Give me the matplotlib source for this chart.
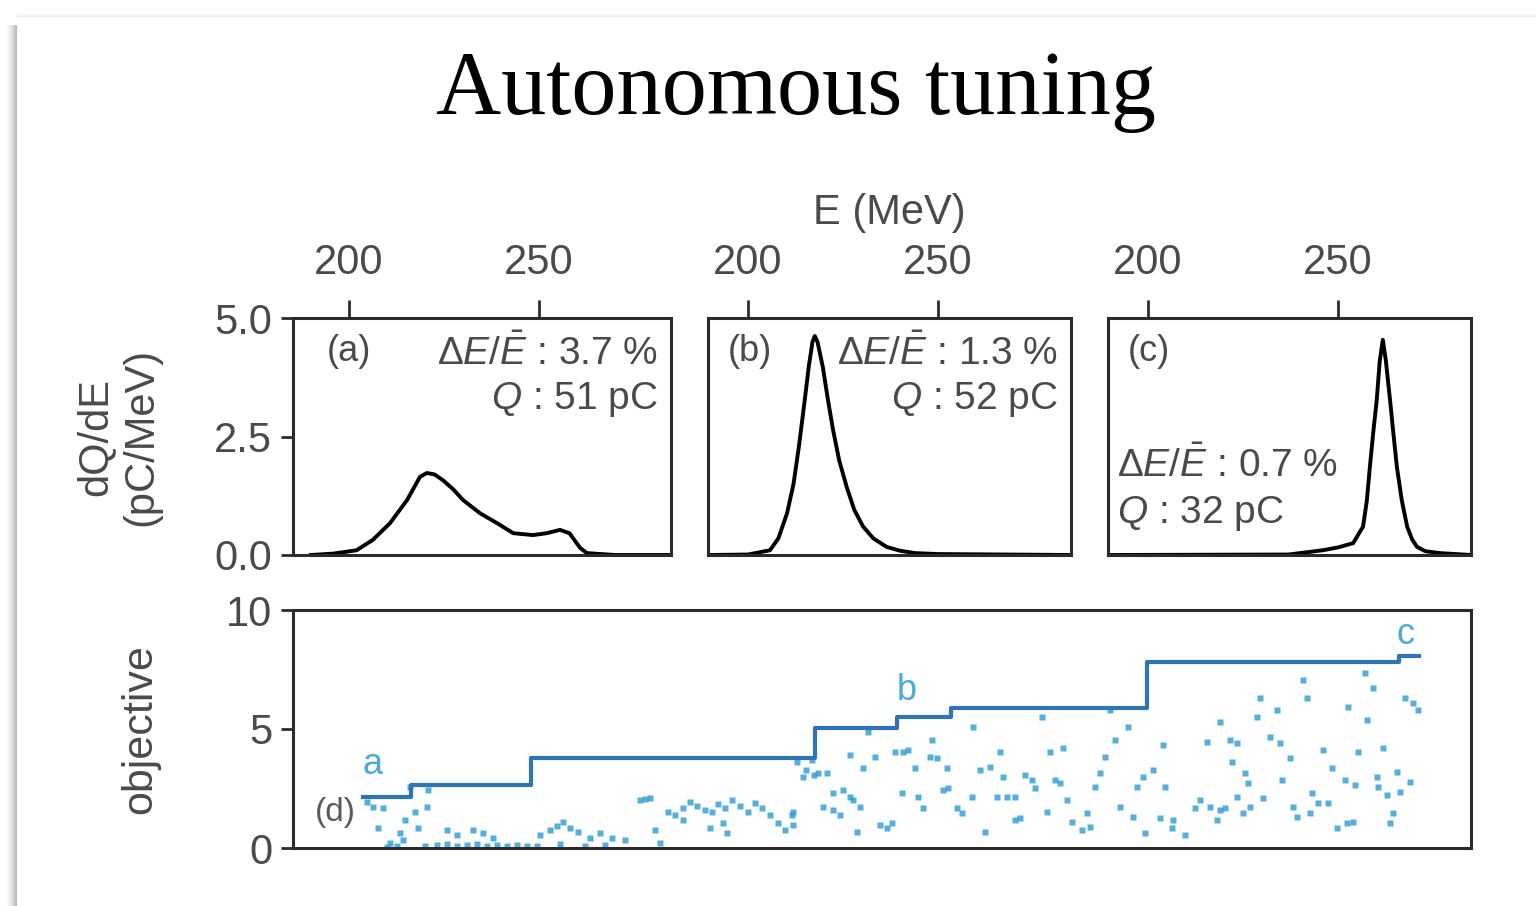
import matplotlib
matplotlib.use("Agg")
import numpy as np
from matplotlib import pyplot as plt
from matplotlib.lines import Line2D

# spectra (E in MeV, dQ/dE in pC/MeV) (a), (b), (c)
E_a = [190, 196, 202, 206.3, 210.8, 215.3, 218.7, 220.5, 222.5, 224.7, 227.5, 230,
       234.5, 239, 243.2, 248.4, 252, 255.5, 258, 260.8, 262.6, 270, 284.7]
Q_a = [0, 0.03, 0.1, 0.32, 0.67, 1.16, 1.65, 1.73, 1.7, 1.58, 1.38, 1.16,
       0.88, 0.67, 0.46, 0.42, 0.46, 0.53, 0.46, 0.15, 0.04, 0, 0]

E_b = [190, 200, 205.8, 208, 210.3, 212, 213.4, 215, 216, 217, 217.6, 218.3, 219.7,
       221, 222.4, 224, 226, 228, 230.3, 233, 236.5, 240, 244, 250, 285]
Q_b = [0, 0.01, 0.1, 0.35, 0.88, 1.5, 2.28, 3.3, 3.97, 4.5, 4.62, 4.5, 3.97,
       3.3, 2.64, 2.0, 1.43, 0.95, 0.6, 0.35, 0.17, 0.09, 0.04, 0.02, 0]

E_c = [190, 237, 246, 250, 254, 256.6, 257.6, 258.4, 259.3, 260.2, 261, 261.8, 262.6,
       263.7, 264.6, 265.5, 266.8, 268.2, 269.5, 270.8, 273, 276.8, 285]
Q_c = [0, 0.01, 0.1, 0.16, 0.25, 0.6, 1.15, 1.86, 2.6, 3.27, 4.1, 4.54, 4.1,
       3.27, 2.55, 1.86, 1.15, 0.6, 0.33, 0.17, 0.08, 0.04, 0]

spread_txt = ["3.7 %", "1.3 %", "0.7 %"]
charge_txt = ["51 pC", "52 pC", "32 pC"]
panel_tags = ["(a)", "(b)", "(c)"]

# best-so-far objective (step) and all evaluations (iteration, objective)
best_iter = [2, 14, 44, 115, 135.5, 149, 198, 261, 266]
best_obj = [2.15, 2.65, 3.8, 5.05, 5.5, 5.9, 7.8, 8.05, 8.05]

eval_iter = [3, 4.5, 7, 5.75, 8.75, 11.25, 12, 12.5, 15, 18, 15.75, 18.25, 13.75,
             8, 10.5, 17.5, 20.5, 23, 25.5, 28, 30.5, 33, 35.5, 38, 40.5, 43,
             29.5, 32, 34.5, 23, 25.5,
             46.25, 48.75, 50.5, 52, 53.75, 55.75, 58.75, 61.25, 64.25, 67.5,
             45.5, 51.25, 57.5, 62.5, 71.25, 72.5, 73.75, 75, 76.25, 78.25, 80,
             82, 83.75, 85.5,
             87.5, 89.25, 90.75, 92.5, 94.25, 96.25, 98.25, 100, 101.75, 103.75,
             105.75, 107.5, 109.25, 82, 88.75, 92, 93, 110.5, 112, 112.75, 114.25,
             109.5, 109.5,
             114.75, 115.75, 118, 123.75, 130, 127, 128.25, 135, 137, 138.25,
             144.25, 143.75, 145.5, 148, 140, 154.5, 161.25, 156.25, 158.75, 162,
             119.5, 122, 123.75, 124.5, 117, 119.5, 121.25, 126.25, 136.75, 140.75,
             142, 147, 148.25, 154.25, 150.5, 151.75, 160.5, 163, 165, 125.5,
             131.25, 133, 134.25, 157.5,
             171.75, 193.25, 190, 187.5, 186.25, 185, 173.75, 177, 167.5, 169.25,
             170, 175, 176.25, 178, 165, 166.25, 173, 179.25, 181.75, 183.75, 183,
             191.25, 194.5, 197.5, 201.25, 204.5, 204.25, 207.5, 195.5, 197, 199.5,
             202.5, 202, 213, 216.25, 218.75, 220.5, 219.25, 211.25, 210, 213.75,
             216.25, 217.5, 215.5, 220.5, 188.75,
             237, 238, 252.5, 254.5, 262.5, 264.5, 265.75, 248.25, 253, 226.25,
             225.5, 230.5, 228.75, 231.25, 233.75, 242, 250.75, 257, 222.5, 223.25,
             231.75, 244.25, 247.5, 250, 255.5, 255.75, 260.5, 263.75, 258, 261.25,
             223.75, 227, 222, 234.5, 235.5, 239.25, 240.75, 243.25, 238.75, 245.5,
             248, 249.5, 259.5, 258.75]
eval_obj = [1.93, 1.72, 1.68, 0.84, 0.21, 0.63, 0.34, 1.18, 1.51, 1.72, 0.84, 2.44, 2.56,
            0.04, 0.08, 0.08, 0.13, 0.17, 0.08, 0.13, 0.17, 0.08, 0.13, 0.08, 0.13, 0.08,
            0.76, 0.63, 0.42, 0.76, 0.55,
            0.55, 0.76, 0.92, 1.09, 0.84, 0.67, 0.42, 0.63, 0.42, 0.34,
            0.08, 0.17, 0.08, 0.13, 2.02, 2.06, 2.1, 0.76, 0.21, 1.51, 1.39,
            1.68, 1.93, 1.76,
            1.6, 1.51, 1.85, 1.68, 2.02, 1.76, 1.51, 1.89, 1.68, 1.39,
            1.05, 0.76, 1.39, 1.18, 0.84, 1.05, 0.63, 3.61, 2.98, 3.28, 3.7,
            1.51, 0.97,
            3.07, 3.15, 3.15, 3.91, 3.82, 3.36, 4.87, 4.03, 4.03, 4.12,
            4.54, 3.82, 3.78, 3.36, 3.36, 5.08, 4.03, 3.28, 3.4, 2.98,
            2.31, 2.44, 2.14, 2.02, 1.72, 1.6, 1.39, 1.72, 2.31, 2.14,
            1.68, 2.44, 2.52, 2.14, 1.68, 1.47, 2.14, 2.14, 1.18, 0.67,
            0.97, 0.84, 1.05, 0.67,
            5.5, 5.08, 4.54, 3.82, 3.15, 2.56, 4.03, 4.2, 3.07, 2.86,
            2.52, 2.86, 2.73, 2.02, 2.14, 1.26, 1.51, 1.09, 0.76, 0.88, 1.47,
            1.72, 1.3, 0.63, 1.26, 1.18, 0.84, 0.55, 2.56, 2.98, 3.28,
            2.56, 4.33, 4.45, 5.29, 4.54, 4.41, 3.61, 2.02, 1.68, 1.72,
            1.6, 1.68, 1.18, 2.14, 5.8,
            7.06, 6.3, 7.35, 6.72, 6.3, 6.09, 5.8, 5.92, 5.38, 6.3,
            5.5, 5.8, 4.66, 4.41, 3.78, 4.12, 4.03, 4.2, 3.15, 2.73,
            2.86, 3.36, 2.86, 2.65, 2.98, 2.56, 3.19, 2.77, 2.23, 2.35,
            1.72, 2.1, 1.47, 1.72, 1.3, 2.31, 1.89, 1.89, 1.47, 0.84,
            1.05, 1.09, 1.47, 1.05]

run_labels = ["a", "b", "c"]
run_label_pos = [(4.5, 3.5), (138, 6.6), (262.5, 8.95)]

plt.rcParams['font.family'] = ['Liberation Sans', 'DejaVu Sans']
plt.rcParams['mathtext.fontset'] = 'custom'
plt.rcParams['mathtext.rm'] = 'Liberation Sans'
plt.rcParams['mathtext.it'] = 'Liberation Sans:italic'

W, H = 1536, 906
fig = plt.figure(figsize=(W / 100, H / 100), dpi=100)
fig.patch.set_facecolor('white')

def px(x0, y0, x1, y1):
    # pixel box (top-left origin) -> figure fraction rect
    return [x0 / W, 1 - y1 / H, (x1 - x0) / W, (y1 - y0) / H]

# slide shadow on the left and top edge
for k in range(1, 14):
    a = 0.30 * (1 - k / 14) ** 2
    fig.add_artist(Line2D([(17 - k) / W] * 2, [0, 1 - (17 + 8) / H],
                          transform=fig.transFigure, color='k', lw=0.8, alpha=a))
for k in range(1, 6):
    a = 0.10 * (1 - k / 6) ** 2
    fig.add_artist(Line2D([17 / W, 1], [1 - (17 - k) / H] * 2,
                          transform=fig.transFigure, color='k', lw=0.8, alpha=a))

fig.text(796 / W, 1 - 92 / H, "Autonomous tuning", ha='center', va='center',
         fontsize=65, family='Liberation Serif', color='black')

txt_col = '#4a4a4a'
spine_col = '#2b2b2b'
fs = 30

boxes = [(293, 318, 671, 555), (708, 318, 1071, 555), (1108, 318, 1471, 555)]
xlims = [(185.3, 284.7), (189.5, 285), (189.5, 285)]
spectra = [(E_a, Q_a), (E_b, Q_b), (E_c, Q_c)]
tag_x = [0.09, 0.055, 0.055]

for i, (box, xl, (E, Q)) in enumerate(zip(boxes, xlims, spectra)):
    ax = fig.add_axes(px(*box))
    ax.plot(E, Q, color='black', lw=2.8, solid_joinstyle='round')
    ax.set_xlim(*xl)
    ax.set_ylim(0, 5)
    ax.xaxis.tick_top()
    ax.set_xticks([200, 250])
    ax.tick_params(axis='x', direction='out', length=13, width=2, pad=12,
                   labelsize=fs, labelcolor=txt_col, color=spine_col)
    if i == 0:
        ax.set_yticks([0, 2.5, 5])
        ax.set_yticklabels(["0.0", "2.5", "5.0"])
        ax.tick_params(axis='y', direction='out', length=9, width=2, pad=6,
                       labelsize=fs, labelcolor=txt_col, color=spine_col)
    else:
        ax.set_yticks([])
    for s in ax.spines.values():
        s.set_linewidth(2.2)
        s.set_color(spine_col)
    ax.text(tag_x[i], 0.86, panel_tags[i], transform=ax.transAxes, ha='left',
            va='center', fontsize=26, color=txt_col)
    dE = r"$\Delta E/\bar{E}$ : " + spread_txt[i]
    qq = r"$Q$ : " + charge_txt[i]
    if i < 2:
        ax.text(0.965, 0.85, dE, transform=ax.transAxes, ha='right', va='center',
                fontsize=28, color=txt_col)
        ax.text(0.965, 0.655, qq, transform=ax.transAxes, ha='right', va='center',
                fontsize=28, color=txt_col)
    else:
        ax.text(0.025, 0.375, dE, transform=ax.transAxes, ha='left', va='center',
                fontsize=28, color=txt_col)
        ax.text(0.025, 0.177, qq, transform=ax.transAxes, ha='left', va='center',
                fontsize=28, color=txt_col)
    if i == 1:
        ax.set_xlabel("E (MeV)", fontsize=fs, color=txt_col, labelpad=14)
        ax.xaxis.set_label_position('top')

fig.text(95 / W, 1 - 437 / H, "dQ/dE", rotation=90, ha='center', va='center',
         fontsize=fs, color=txt_col)
fig.text(141 / W, 1 - 437 / H, "(pC/MeV)", rotation=90, ha='center', va='center',
         fontsize=fs, color=txt_col)

# bottom panel: objective vs. iteration
axd = fig.add_axes(px(293, 610, 1471, 848))
axd.plot(eval_iter, eval_obj, ls='none', marker='s', ms=4.6, color='#2a9bd1',
         alpha=0.8, mec='none')
axd.plot(best_iter, best_obj, drawstyle='steps-post', color='#2d74b8', lw=3.0)
axd.set_xlim(-15.5, 279)
axd.set_ylim(0, 10)
axd.set_xticks([])
axd.set_yticks([0, 5, 10])
axd.tick_params(axis='y', direction='out', length=9, width=2, pad=6,
                labelsize=fs, labelcolor=txt_col, color=spine_col)
for s in axd.spines.values():
    s.set_linewidth(2.2)
    s.set_color(spine_col)
for lab, (xi, yi) in zip(run_labels, run_label_pos):
    axd.text(xi, yi, lab, ha='center', va='center', fontsize=26, color='#4aaad8')
axd.text(-5, 1.5, "(d)", ha='center', va='center', fontsize=24, color='#5a5a5a')
fig.text(140 / W, 1 - 729 / H, "objective", rotation=90, ha='center', va='center',
         fontsize=31, color=txt_col)

fig.savefig("out.png", dpi=100, facecolor='white')
